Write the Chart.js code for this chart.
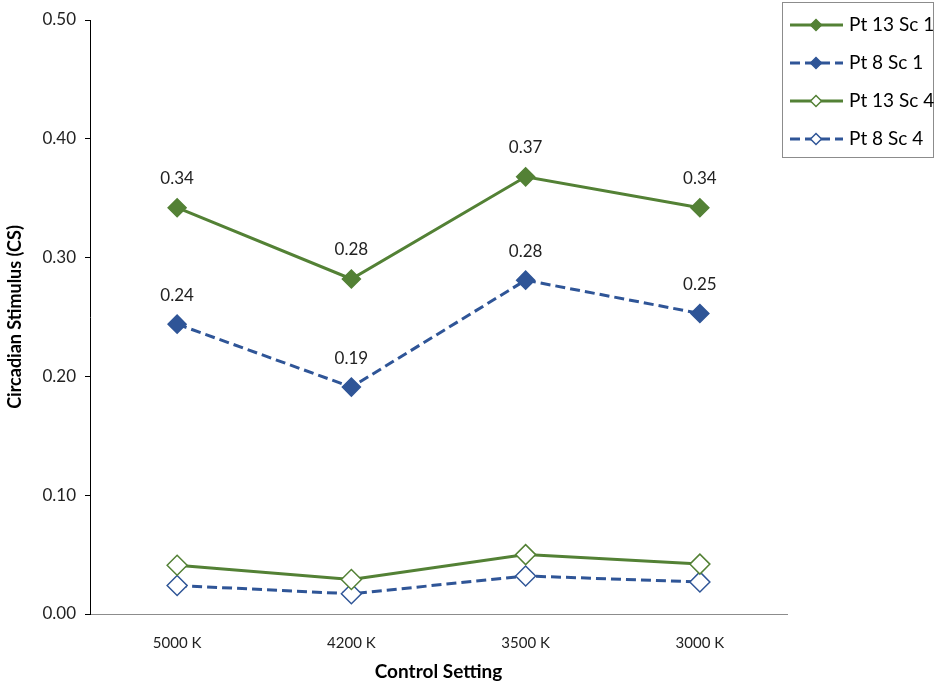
<!DOCTYPE html>
<html lang="en">
<head>
  <meta charset="UTF-8" />
  <title>Circadian Stimulus</title>
  <script src="https://cdn.jsdelivr.net/npm/chart.js"></script>
  <style>
    html, body { margin: 0; padding: 0; background: #fff; }
    #wrap { width: 934px; height: 683px; }
  </style>
</head>
<body>
  <div id="wrap"><canvas id="grafico" width="934" height="683"></canvas></div>

<script>
const categorias = ['5000 K', '4200 K', '3500 K', '3000 K'];
const pt13sc1 = [0.342, 0.282, 0.368, 0.342];
const pt8sc1 = [0.244, 0.191, 0.281, 0.253];
const pt13sc4 = [0.041, 0.029, 0.050, 0.042];
const pt8sc4 = [0.024, 0.017, 0.032, 0.027];
const yTicks = [0, 0.1, 0.2, 0.3, 0.4, 0.5];

const verde = '#538135';
const azul = '#2F5597';
const fonte = 'Lato, "Open Sans", sans-serif';

// rótulos de valor acima dos pontos (só nas séries Sc 1)
const rotulos = {
  id: 'rotulos',
  afterDatasetsDraw(chart) {
    const ctx = chart.ctx;
    ctx.save();
    ctx.font = '17px ' + fonte;
    ctx.fillStyle = '#222';
    ctx.textAlign = 'center';
    ctx.textBaseline = 'middle';
    chart.data.datasets.forEach((ds, i) => {
      if (!ds.mostrarRotulo) return;
      chart.getDatasetMeta(i).data.forEach((pt, j) => {
        ctx.fillText(ds.data[j].toFixed(2), pt.x, pt.y - 29);
      });
    });
    ctx.restore();
  }
};

// legenda desenhada à mão, com linha + marcador
const legenda = {
  id: 'legenda',
  afterDraw(chart) {
    const ctx = chart.ctx;
    const x0 = 782, y0 = 2, w = 151, h = 155;
    ctx.save();
    ctx.strokeStyle = '#8c8c8c';
    ctx.lineWidth = 1;
    ctx.strokeRect(x0 + 0.5, y0 + 0.5, w, h);
    chart.data.datasets.forEach((ds, i) => {
      const y = 25 + i * 38;
      ctx.strokeStyle = ds.borderColor;
      ctx.lineWidth = 3;
      ctx.setLineDash(ds.borderDash || []);
      ctx.beginPath();
      ctx.moveTo(790, y);
      ctx.lineTo(843, y);
      ctx.stroke();
      ctx.setLineDash([]);
      const r = 5.5;
      ctx.beginPath();
      ctx.moveTo(816 - r, y);
      ctx.lineTo(816, y - r);
      ctx.lineTo(816 + r, y);
      ctx.lineTo(816, y + r);
      ctx.closePath();
      ctx.fillStyle = ds.pointBackgroundColor;
      ctx.fill();
      ctx.lineWidth = 1.5;
      ctx.strokeStyle = ds.pointBorderColor;
      ctx.stroke();
      ctx.fillStyle = '#000';
      ctx.font = '19px ' + fonte;
      ctx.textBaseline = 'middle';
      ctx.textAlign = 'left';
      ctx.fillText(ds.label, 849, y);
    });
    ctx.restore();
  }
};

const ctx = document.getElementById('grafico').getContext('2d');
new Chart(ctx, {
  type: 'line',
  data: {
    labels: categorias,
    datasets: [
      {
        label: 'Pt 13 Sc 1', data: pt13sc1, mostrarRotulo: true,
        borderColor: verde, borderWidth: 3,
        pointStyle: 'rectRot', pointRadius: 9, pointBorderWidth: 1.5,
        pointBackgroundColor: verde, pointBorderColor: verde
      },
      {
        label: 'Pt 8 Sc 1', data: pt8sc1, mostrarRotulo: true,
        borderColor: azul, borderWidth: 3, borderDash: [10, 5],
        pointStyle: 'rectRot', pointRadius: 9, pointBorderWidth: 1.5,
        pointBackgroundColor: azul, pointBorderColor: azul
      },
      {
        label: 'Pt 13 Sc 4', data: pt13sc4,
        borderColor: verde, borderWidth: 3,
        pointStyle: 'rectRot', pointRadius: 10, pointBorderWidth: 1.5,
        pointBackgroundColor: '#fff', pointBorderColor: verde
      },
      {
        label: 'Pt 8 Sc 4', data: pt8sc4,
        borderColor: azul, borderWidth: 3, borderDash: [10, 5],
        pointStyle: 'rectRot', pointRadius: 10, pointBorderWidth: 1.5,
        pointBackgroundColor: '#fff', pointBorderColor: azul
      }
    ]
  },
  options: {
    responsive: false,
    animation: false,
    layout: { padding: { top: 20, right: 147, left: 0, bottom: 0 } },
    plugins: {
      legend: { display: false },
      tooltip: { enabled: false }
    },
    scales: {
      x: {
        offset: true,
        grid: { display: false, drawTicks: false },
        border: { display: true, color: '#8c8c8c', width: 1 },
        ticks: { color: '#222', font: { family: fonte, size: 15 }, padding: 20 },
        title: { display: true, text: 'Control Setting', color: '#000', font: { family: fonte, size: 19, weight: 'bold' }, padding: { top: 11, bottom: 0 } },
        afterFit(s) { s.height = 69; }
      },
      y: {
        min: 0, max: 0.5,
        afterBuildTicks(s) { s.ticks = yTicks.map(v => ({ value: v })); },
        grid: { drawOnChartArea: false, drawTicks: true, tickLength: 5, color: '#000' },
        border: { display: true, color: '#000', width: 1 },
        ticks: { color: '#222', font: { family: fonte, size: 17 }, padding: 9, callback: v => v.toFixed(2) },
        title: { display: true, text: 'Circadian Stimulus (CS)', color: '#000', font: { family: fonte, size: 18, weight: 'bold' }, padding: { bottom: 14 } },
        afterFit(s) { s.width = 90; }
      }
    }
  },
  plugins: [rotulos, legenda]
});
</script>
</body>
</html>
